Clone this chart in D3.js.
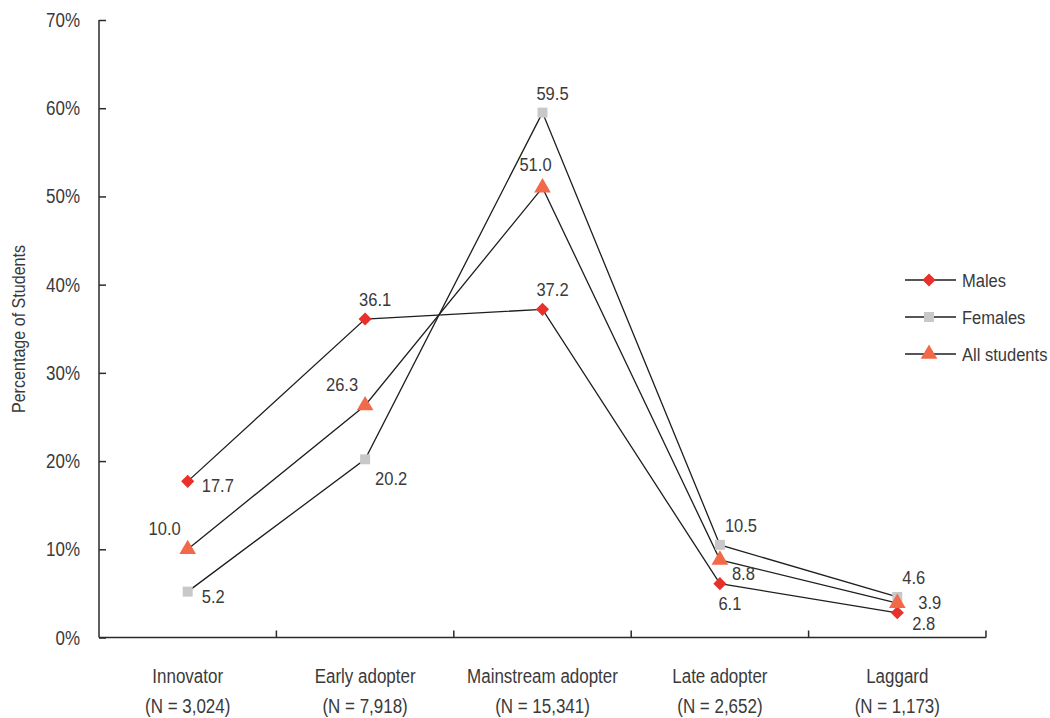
<!DOCTYPE html>
<html>
<head>
<meta charset="utf-8">
<script src="https://cdn.jsdelivr.net/npm/d3@7"></script>
<style>
  html, body { margin: 0; padding: 0; background: #fff; }
  svg { display: block; }
  text { font-family: "Liberation Sans Narrow", "Arial Narrow", "Liberation Sans", Arial, sans-serif; fill: #3a3a3a; }
</style>
</head>
<body>
<svg id="chart" width="1050" height="718"></svg>
<script>
// Adopter categories and their group sizes
const categories = ["Innovator", "Early adopter", "Mainstream adopter", "Late adopter", "Laggard"];
const groupSizes = ["N = 3,024", "N = 7,918", "N = 15,341", "N = 2,652", "N = 1,173"];

// Percentage of students in each category
const males = [17.7, 36.1, 37.2, 6.1, 2.8];
const females = [5.2, 20.2, 59.5, 10.5, 4.6];
const allStudents = [10.0, 26.3, 51.0, 8.8, 3.9];

const yTicks = [0, 10, 20, 30, 40, 50, 60, 70];

// Where each value label sits relative to its marker
const malesLabelPos = ["rightBelow", "above", "above", "below", "rightBelowLow"];
const femalesLabelPos = ["rightBelow", "rightBelowFar", "above", "aboveRight", "aboveRight"];
const allLabelPos = ["aboveLeft", "aboveLeft", "aboveLeftSmall", "rightBelow2", "right"];

const labelOffsets = {
  rightBelow:     { dx: 14, dy: 11, anchor: "start" },
  rightBelowLow:  { dx: 15, dy: 17, anchor: "start" },
  rightBelowFar:  { dx: 10, dy: 26, anchor: "start" },
  rightBelow2:    { dx: 12, dy: 20, anchor: "start" },
  above:          { dx: 10, dy: -13, anchor: "middle" },
  below:          { dx: 10, dy: 26, anchor: "middle" },
  aboveRight:     { dx: 5, dy: -13, anchor: "start" },
  aboveLeft:      { dx: -7, dy: -14, anchor: "end" },
  aboveLeftSmall: { dx: -7, dy: -17, anchor: "middle" },
  right:          { dx: 21, dy: 6, anchor: "start" }
};

const svg = d3.select("#chart");
const margin = { left: 99, right: 986, top: 20, bottom: 637.5 };

// Condensed text: regular sans squeezed horizontally
const SQUEEZE = 0.87;
function label(parent, x, y, str, anchor, size, rotate) {
  const rot = rotate ? ` rotate(${rotate})` : "";
  return parent.append("text")
    .attr("transform", `translate(${x},${y})${rot} scale(${SQUEEZE},1)`)
    .attr("text-anchor", anchor || "start")
    .style("font-size", (size || 19) + "px")
    .text(str);
}

const x = d3.scaleBand().domain(categories).range([margin.left, margin.right]).padding(0);
const cx = c => x(c) + x.bandwidth() / 2;
const y = d3.scaleLinear().domain([0, 70]).range([margin.bottom, margin.top]);

const axisColor = "#2a2a2a";

// Y axis with ticks pointing into the plot
const yAxis = svg.append("g")
  .attr("transform", `translate(${margin.left},0)`)
  .call(d3.axisRight(y).tickValues(yTicks).tickSize(7).tickFormat(""));
yAxis.select(".domain").attr("stroke", axisColor).attr("stroke-width", 1.5).attr("d", `M0,${y(70)}H0V${y(0)}`);
yAxis.selectAll(".tick line").attr("stroke", axisColor).attr("stroke-width", 1.5);
yTicks.forEach(t => {
  label(svg, 80, y(t) + 7, t + "%", "end", 19.5);
});

// X axis: boundary ticks between categories
const boundaries = categories.map(c => x(c)).concat([margin.right]);
svg.append("line")
  .attr("x1", margin.left).attr("x2", margin.right)
  .attr("y1", y(0)).attr("y2", y(0))
  .attr("stroke", axisColor).attr("stroke-width", 1.5);
svg.selectAll(".xtick").data(boundaries.slice(1)).enter().append("line")
  .attr("x1", d => d).attr("x2", d => d)
  .attr("y1", y(0)).attr("y2", y(0) - 7)
  .attr("stroke", axisColor).attr("stroke-width", 1.5);

// Category labels with group sizes beneath
categories.forEach((c, i) => {
  label(svg, cx(c), 683, c, "middle", 19.5);
  label(svg, cx(c), 713, "(" + groupSizes[i] + ")", "middle", 19.5);
});

// Y axis title
label(svg, 25, 329, "Percentage of Students", "middle", 18.5, -90);

const series = [
  { name: "Males", values: males, pos: malesLabelPos, symbol: d3.symbolDiamond2, color: "#e8312a", size: 110 },
  { name: "Females", values: females, pos: femalesLabelPos, symbol: d3.symbolSquare, color: "#c8c8c8", size: 100 },
  { name: "All students", values: allStudents, pos: allLabelPos, symbol: d3.symbolTriangle, color: "#f2694a", size: 120 }
];

const line = d3.line().x((d, i) => cx(categories[i])).y(d => y(d));

// Lines first so markers sit on top
series.forEach(s => {
  svg.append("path")
    .attr("d", line(s.values))
    .attr("fill", "none")
    .attr("stroke", "#1e1e1e")
    .attr("stroke-width", 1.3);
});

series.forEach(s => {
  const sym = d3.symbol().type(s.symbol).size(s.size);
  svg.selectAll(null).data(s.values).enter().append("path")
    .attr("d", sym)
    .attr("transform", (d, i) => `translate(${cx(categories[i])},${y(d)})`)
    .attr("fill", s.color);
  s.values.forEach((v, i) => {
    const o = labelOffsets[s.pos[i]];
    label(svg, cx(categories[i]) + o.dx, y(v) + o.dy, v.toFixed(1), o.anchor, 19);
  });
});

// Legend
const legend = svg.append("g");
series.forEach((s, i) => {
  const ly = 280 + i * 37;
  legend.append("line")
    .attr("x1", 905).attr("x2", 956).attr("y1", ly).attr("y2", ly)
    .attr("stroke", "#1e1e1e").attr("stroke-width", 1.3);
  legend.append("path")
    .attr("d", d3.symbol().type(s.symbol).size(s.size)())
    .attr("transform", `translate(929,${ly})`)
    .attr("fill", s.color);
  label(legend, 962, ly + 7, s.name, "start", 19);
});
</script>
</body>
</html>
